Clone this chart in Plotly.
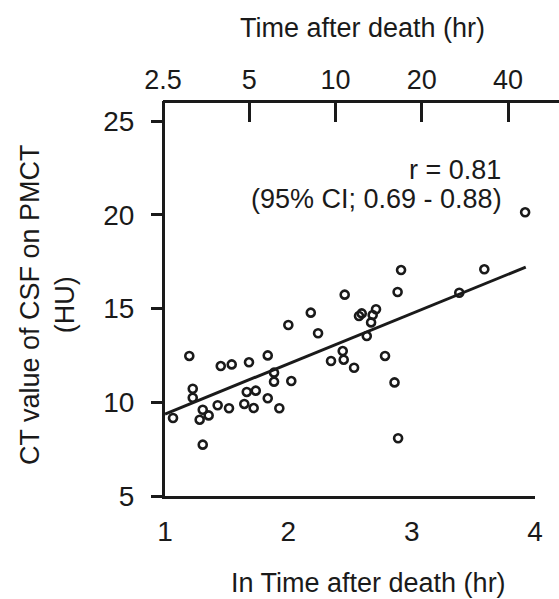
import plotly.graph_objects as go
import math

W, H = 559, 599

# ---- data ----
ln_time = [1.065, 1.197, 1.225, 1.225, 1.281, 1.306, 1.306, 1.354, 1.427, 1.452,
           1.519, 1.541, 1.643, 1.663, 1.681, 1.719, 1.736, 1.833, 1.833, 1.884,
           1.884, 1.927, 2.000, 2.024, 2.182, 2.241, 2.346, 2.441, 2.449, 2.457,
           2.533, 2.573, 2.595, 2.636, 2.671, 2.684, 2.711, 2.784, 2.861, 2.886,
           2.890, 2.914, 3.386, 3.589, 3.920]
ct_value = [9.16, 12.47, 10.72, 10.24, 9.07, 9.60, 7.74, 9.30, 9.84, 11.93,
            9.68, 12.02, 9.91, 10.55, 12.13, 9.69, 10.62, 12.50, 10.21, 11.58,
            11.10, 9.68, 14.12, 11.13, 14.78, 13.68, 12.20, 12.73, 12.27, 15.74,
            11.84, 14.60, 14.74, 13.53, 14.26, 14.65, 14.96, 12.47, 11.06, 15.88,
            8.08, 17.05, 15.84, 17.09, 20.13]

fit_intercept = 6.69
fit_slope = 2.68
fit_x = [1.0, 3.925]

x_ticks = [1, 2, 3, 4]
y_ticks = [5, 10, 15, 20, 25]
top_ticks = [2.5, 5, 10, 20, 40]
top_tick_text = ["2.5", "5", "10", "20", "40"]

r_text = "r = 0.81"
ci_text = "(95% CI; 0.69 - 0.88)"

# ---- layout helpers ----
def px(x):
    return x / W

def py(y):
    return 1 - y / H

FONT = "Liberation Sans, Arial, sans-serif"
INK = "#1a1a1a"

fig = go.Figure()

fig.add_trace(go.Scatter(
    x=ln_time, y=ct_value, mode="markers",
    marker=dict(symbol="circle-open", size=8, color=INK, line=dict(width=2.6, color=INK)),
    showlegend=False, hoverinfo="skip",
))

fit_y = [fit_intercept + fit_slope * v for v in fit_x]
fig.add_trace(go.Scatter(
    x=fit_x, y=fit_y, mode="lines",
    line=dict(color=INK, width=3),
    showlegend=False, hoverinfo="skip",
))

# invisible trace so the top axis is drawn
fig.add_trace(go.Scatter(
    x=[5], y=[5], xaxis="x2", yaxis="y", mode="markers",
    marker=dict(opacity=0), showlegend=False, hoverinfo="skip",
))

top_lo = math.log10(2.5)
top_hi = math.log10(60.2)

fig.update_layout(
    width=W, height=H,
    margin=dict(l=0, r=0, t=0, b=0, autoexpand=False),
    paper_bgcolor="white", plot_bgcolor="rgba(0,0,0,0)",
    font=dict(family=FONT, color=INK, size=28),
    xaxis=dict(
        domain=[px(165), px(535)], range=[1, 4], anchor="y", automargin=False,
        tickvals=x_ticks, ticks="", showgrid=False, zeroline=False,
        showline=True, linecolor=INK, linewidth=3,
        tickfont=dict(size=28), ticklabelstandoff=8,
    ),
    yaxis=dict(
        domain=[py(496), py(101)], range=[5, 5 + (496 - 101) / 18.75], anchor="x",
        automargin=False,
        tickvals=y_ticks, ticks="outside", ticklen=11, tickwidth=3, tickcolor=INK,
        showgrid=False, zeroline=False,
        showline=True, linecolor=INK, linewidth=3,
        tickfont=dict(size=28), ticklabelstandoff=11,
    ),
    xaxis2=dict(
        domain=[px(163), 1.0], type="log", range=[top_lo, top_hi],
        anchor="free", position=py(101), side="top", automargin=False,
        tickvals=top_ticks, ticktext=top_tick_text,
        ticks="inside", ticklen=19, tickwidth=3, tickcolor=INK,
        showgrid=False, zeroline=False,
        showline=True, linecolor=INK, linewidth=3,
        tickfont=dict(size=27),
    ),
    annotations=[
        dict(text="Time after death (hr)", x=px(362), y=py(28), xref="paper", yref="paper",
             xanchor="center", yanchor="middle", showarrow=False, font=dict(size=27)),
        dict(text="In Time after death (hr)", x=px(368), y=py(583), xref="paper", yref="paper",
             xanchor="center", yanchor="middle", showarrow=False, font=dict(size=27)),
        dict(text="CT value of CSF on PMCT<br>(HU)", x=px(47), y=py(305), xref="paper", yref="paper",
             xanchor="center", yanchor="middle", textangle=-90, showarrow=False,
             font=dict(size=27)),
        dict(text=r_text, x=px(503), y=py(170), xref="paper", yref="paper",
             xanchor="right", yanchor="middle", showarrow=False, font=dict(size=27)),
        dict(text=ci_text, x=px(504), y=py(199), xref="paper", yref="paper",
             xanchor="right", yanchor="middle", showarrow=False, font=dict(size=27)),
    ],
)

fig.write_html("out.html")
